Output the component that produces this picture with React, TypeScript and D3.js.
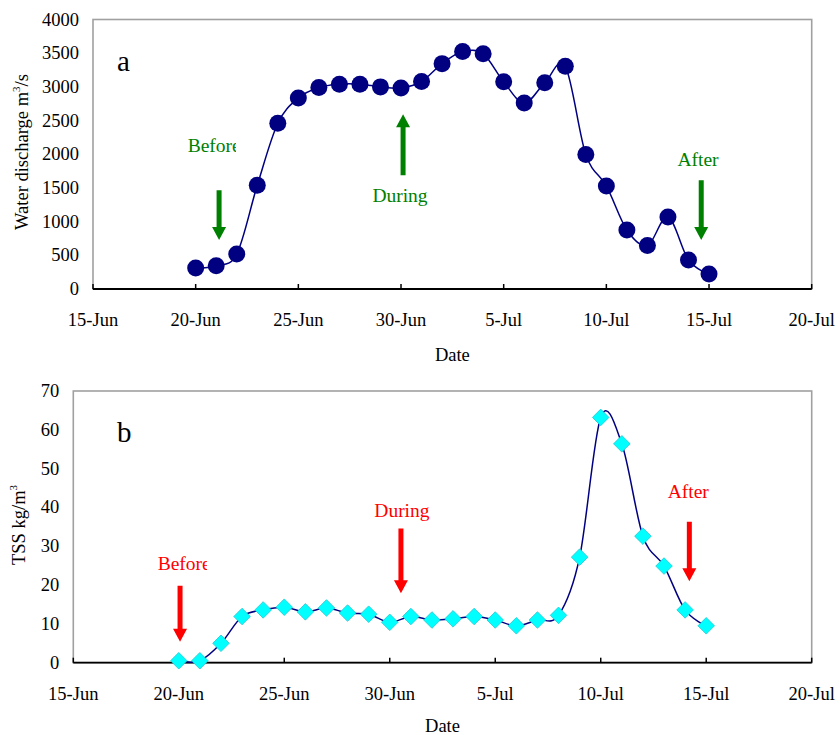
import React, { useRef, useEffect } from 'react';
import * as d3 from 'd3';

// sampling days (one value per day, 20-Jun to 15-Jul)
const days = [
  '06-20', '06-21', '06-22', '06-23', '06-24', '06-25', '06-26', '06-27', '06-28',
  '06-29', '06-30', '07-01', '07-02', '07-03', '07-04', '07-05', '07-06', '07-07',
  '07-08', '07-09', '07-10', '07-11', '07-12', '07-13', '07-14', '07-15',
];
const discharge = [
  310, 345, 518, 1540, 2460, 2835, 2990, 3040, 3040, 3000, 2985, 3080, 3345,
  3525, 3490, 3075, 2760, 3060, 3305, 1995, 1530, 875, 645, 1070, 430, 222,
];
const tss = [
  0.5, 0.5, 5.0, 11.9, 13.6, 14.3, 13.1, 14.1, 12.8, 12.5, 10.4, 11.9, 11.0,
  11.3, 11.9, 11.0, 9.5, 11.0, 12.2, 27.2, 63.2, 56.4, 32.6, 24.9, 13.6, 9.5,
];
const xTicks = ['06-15', '06-20', '06-25', '06-30', '07-05', '07-10', '07-15', '07-20'];
const qTicks = [0, 500, 1000, 1500, 2000, 2500, 3000, 3500, 4000];
const tssTicks = [0, 10, 20, 30, 40, 50, 60, 70];

// annotation arrows: day offset from 20-Jun, tail value, tip value
const qNotes = [
  { label: 'Before', day: 1.14, tail: 1467, tip: 726 },
  { label: 'During', day: 10.1, tail: 1689, tip: 2593 },
  { label: 'After', day: 24.62, tail: 1615, tip: 726 },
];
const tssNotes = [
  { label: 'Before', day: 0.06, tail: 19.8, tip: 5.4 },
  { label: 'During', day: 10.53, tail: 34.6, tip: 17.9 },
  { label: 'After', day: 24.2, tail: 36.3, tip: 21.0 },
];

const parse = (s: string) => new Date(`2000-${s}T00:00:00`);
const fmt = d3.timeFormat('%-d-%b');
const FONT = '"Liberation Serif", "Times New Roman", serif';

const Panel = ({ top, bottom, left, right, values, ticks, yMax, marker, letter, notes, noteColor, labelPos, title, sup, tail, clipId, dateY }: any) => {
  const gRef = useRef<SVGGElement>(null);

  useEffect(() => {
    const g = d3.select(gRef.current);
    g.selectAll('*').remove();

    const x = d3.scaleTime().domain([parse('06-15'), parse('07-20')]).range([left, right]);
    const y = d3.scaleLinear().domain([0, yMax]).range([bottom, top]);
    const pts = days.map((d, i) => [x(parse(d)), y(values[i])] as [number, number]);

    // plot frame
    g.append('rect')
      .attr('x', left).attr('y', top)
      .attr('width', right - left).attr('height', bottom - top)
      .attr('fill', 'white').attr('stroke', '#a0a0a0').attr('stroke-width', 1.6);

    // x axis, ticks pointing inward
    g.append('line')
      .attr('x1', left).attr('x2', right).attr('y1', bottom).attr('y2', bottom)
      .attr('stroke', 'black').attr('stroke-width', 1.8);
    xTicks.forEach(t => {
      const px = x(parse(t));
      g.append('line').attr('x1', px).attr('x2', px).attr('y1', bottom).attr('y2', bottom - 5)
        .attr('stroke', 'black').attr('stroke-width', 1.5);
      g.append('text').attr('x', px).attr('y', bottom + 37).attr('text-anchor', 'middle')
        .attr('font-size', 18.5).text(fmt(parse(t)));
    });
    g.append('text').attr('x', (left + right) / 2).attr('y', dateY)
      .attr('text-anchor', 'middle').attr('font-size', 18.5).text('Date');

    // y axis labels
    ticks.forEach((t: number) => {
      g.append('text').attr('x', left - 14).attr('y', y(t) + 6).attr('text-anchor', 'end')
        .attr('font-size', 18.5).text(t);
    });
    const yt = g.append('text')
      .attr('transform', `translate(${labelPos[0]},${labelPos[1]}) rotate(-90)`)
      .attr('text-anchor', 'middle').attr('font-size', 18.5);
    yt.append('tspan').text(title);
    yt.append('tspan').attr('font-size', 11).attr('dy', -8).text(sup);
    yt.append('tspan').attr('dy', 8).text(tail);

    // smoothed series line
    const line = d3.line().curve(d3.curveCatmullRom.alpha(0));
    g.append('path').attr('d', line(pts)).attr('fill', 'none')
      .attr('stroke', '#000080').attr('stroke-width', 1.5);

    if (marker === 'circle') {
      g.selectAll('.pt').data(pts).enter().append('circle')
        .attr('cx', d => d[0]).attr('cy', d => d[1]).attr('r', 8.5).attr('fill', '#000080');
    } else {
      g.selectAll('.pt').data(pts).enter().append('path')
        .attr('d', d3.symbol().type(d3.symbolDiamond2).size(175)())
        .attr('transform', d => `translate(${d[0]},${d[1]})`)
        .attr('fill', '#00ffff').attr('stroke', '#20c8d0').attr('stroke-width', 0.8);
    }

    // panel letter
    g.append('text').attr('x', 117).attr('y', top + 51).attr('font-size', 29).text(letter);

    // annotation arrows
    const start = parse('06-20').getTime();
    const clip = g.append('clipPath').attr('id', clipId);
    notes.forEach((n: any) => {
      const px = x(new Date(start + n.day * 864e5));
      const y0 = y(n.tail), y1 = y(n.tip);
      const dir = y1 > y0 ? 1 : -1;
      const hl = 13, hw = 7, sw = 2.5;
      const yb = y1 - dir * hl;
      g.append('path')
        .attr('d', `M${px - sw},${y0}V${yb}H${px - hw}L${px},${y1}L${px + hw},${yb}H${px + sw}V${y0}Z`)
        .attr('fill', noteColor);
      const lp = n.labelAt;
      const txt = g.append('text').attr('font-size', 19.5).attr('fill', noteColor)
        .attr('x', lp[0]).attr('y', lp[1]).attr('text-anchor', lp[2]).text(n.label);
      if (lp[3]) {
        clip.append('rect').attr('x', 0).attr('y', 0).attr('width', lp[3]).attr('height', 735);
        txt.attr('clip-path', `url(#${clipId})`);
      }
    });
  }, []);

  return <g ref={gRef} />;
};

const App = () => {
  const qN = qNotes.map((n, i) => ({ ...n, labelAt: [[187.7, 152, 'start', 236], [400, 202, 'middle'], [698, 165.5, 'middle']][i] }));
  const tN = tssNotes.map((n, i) => ({ ...n, labelAt: [[157.7, 570, 'start', 207], [374.3, 516.5, 'start'], [688.3, 498, 'middle']][i] }));
  return (
    <svg width={840} height={735} style={{ position: 'absolute', left: 0, top: 0, fontFamily: FONT }}>
      <rect width={840} height={735} fill="white" />
      <Panel top={19.5} bottom={289} left={93} right={811.7} values={discharge} ticks={qTicks} yMax={4000}
        marker="circle" letter="a" notes={qN} noteColor="#008000" labelPos={[28, 152]}
        title="Water discharge m" sup="3" tail="/s" clipId="clipA" dateY={361} />
      <Panel top={391} bottom={662.7} left={73.3} right={811.7} values={tss} ticks={tssTicks} yMax={70}
        marker="diamond" letter="b" notes={tN} noteColor="#ff0000" labelPos={[25, 525]}
        title="TSS kg/m" sup="3" tail="" clipId="clipB" dateY={732} />
    </svg>
  );
};

export default App;
